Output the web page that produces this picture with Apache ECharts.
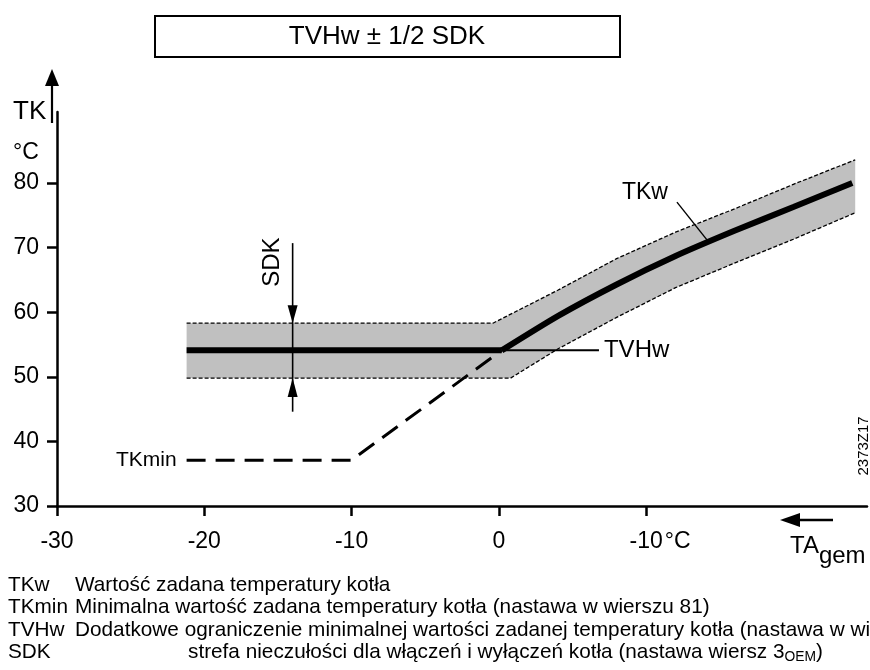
<!DOCTYPE html>
<html>
<head>
<meta charset="utf-8">
<script src="https://cdn.jsdelivr.net/npm/echarts@6/dist/echarts.min.js"></script>
<style>
html,body{margin:0;padding:0;background:#fff;}
#c{width:870px;height:670px;}
</style>
</head>
<body>
<div id="c"></div>
<script>
// Axis ticks and their printed labels
const xTicks = [-30, -20, -10, 0, 10];
const xTickLabels = ['-30', '-20', '-10', '0', '-10'];
const yTicks = [30, 40, 50, 60, 70, 80];
const yTickLabels = ['30', '40', '50', '60', '70', '80'];

// TVHw: flat minimum-limit segment of the boiler setpoint
const tvhwX = [-21.2, 0.2];
const tvhwY = [54.1, 54.1];

// TKw: boiler setpoint curve above the TVHw limit
const tkwX = [0.2, 4, 8, 12, 16, 20, 24.0];
const tkwY = [54.1, 59.4, 64.3, 68.7, 72.6, 76.3, 80.0];

// TKmin: minimum setpoint and the heating curve below TVHw
const tkminX = [-21.2, -10.0, 0.2];
const tkminY = [37.1, 37.1, 54.1];

// Switching differential band (TVHw / TKw +- 1/2 SDK)
const bandUpperX = [-21.2, -0.4, 4, 8, 12, 16, 20, 24.2];
const bandUpperY = [58.3, 58.3, 63.4, 68.3, 72.4, 76.0, 79.8, 83.6];
const bandLowerX = [-21.2, 0.8, 4, 8, 12, 16, 20, 24.2];
const bandLowerY = [49.8, 49.8, 54.3, 59.2, 63.8, 67.6, 71.3, 75.4];

// SDK dimension arrow
const sdkX = -14.0;
const sdkTopY = 70.7;
const sdkBottomY = 44.6;

// Legend rows below the chart
const legendKeys = ['TKw', 'TKmin', 'TVHw', 'SDK'];
const legendTexts = [
  'Wartość zadana temperatury kotła',
  'Minimalna wartość zadana temperatury kotła (nastawa w wierszu 81)',
  'Dodatkowe ograniczenie minimalnej wartości zadanej temperatury kotła (nastawa w wierszu',
  'strefa nieczułości dla włączeń i wyłączeń kotła (nastawa wiersz 3'
];

const FONT = '"Liberation Sans", Arial, sans-serif';

const zip = (xs, ys) => xs.map((x, i) => [x, ys[i]]);

const chart = echarts.init(document.getElementById('c'), null, { renderer: 'canvas' });

const lineBase = { type: 'line', symbol: 'none', animation: false, silent: true };

const option = {
  backgroundColor: '#fff',
  animation: false,
  grid: { left: 57, right: 3, top: 112, bottom: 164 },
  xAxis: {
    type: 'value', min: -30, max: 25,
    splitLine: { show: false },
    axisLine: { onZero: false, lineStyle: { color: '#000', width: 2.5 } },
    axisTick: { customValues: xTicks, length: 10, lineStyle: { color: '#000', width: 2.5 } },
    axisLabel: {
      customValues: xTicks, margin: 24, color: '#000', fontSize: 23, fontFamily: FONT,
      formatter: v => xTickLabels[xTicks.indexOf(v)]
    }
  },
  yAxis: {
    type: 'value', min: 30, max: 91,
    splitLine: { show: false },
    axisLine: { onZero: false, lineStyle: { color: '#000', width: 2.5 } },
    axisTick: { customValues: yTicks, length: 10, lineStyle: { color: '#000', width: 2.5 } },
    axisLabel: {
      customValues: yTicks, margin: 18, color: '#000', fontSize: 23, fontFamily: FONT,
      formatter: v => yTickLabels[yTicks.indexOf(v)]
    }
  },
  series: [
    {
      type: 'custom', silent: true, animation: false, z: 1,
      data: [[0, 0]],
      renderItem: (params, api) => {
        const pts = [];
        bandUpperX.forEach((x, i) => pts.push(api.coord([x, bandUpperY[i]])));
        for (let i = bandLowerX.length - 1; i >= 0; i--) pts.push(api.coord([bandLowerX[i], bandLowerY[i]]));
        return { type: 'polygon', shape: { points: pts }, style: { fill: '#c0c0c0' } };
      }
    },
    Object.assign({}, lineBase, { z: 2, data: zip(bandUpperX, bandUpperY),
      lineStyle: { color: '#000', width: 1.3, type: [4, 2] } }),
    Object.assign({}, lineBase, { z: 2, data: zip(bandLowerX, bandLowerY),
      lineStyle: { color: '#000', width: 1.3, type: [4, 2] } }),
    Object.assign({}, lineBase, { z: 3, data: zip(tkminX, tkminY),
      lineStyle: { color: '#000', width: 3, type: [19, 10] } }),
    Object.assign({}, lineBase, { z: 4, data: zip(tvhwX, tvhwY),
      lineStyle: { color: '#000', width: 6, cap: 'butt' } }),
    Object.assign({}, lineBase, { z: 4, smooth: 0.2, data: zip(tkwX, tkwY),
      lineStyle: { color: '#000', width: 6, cap: 'butt' } })
  ]
};

chart.setOption(option);

// ---- annotations placed through the grid's own scales ----
const p = (x, y) => chart.convertToPixel({ gridIndex: 0 }, [x, y]);
const ctx = document.createElement('canvas').getContext('2d');
const textWidth = (t, font) => { ctx.font = font; return ctx.measureText(t).width; };

function txt(t, x, y, size, align, vAlign, extra) {
  return Object.assign({
    type: 'text', x: x, y: y, z: 50,
    style: {
      text: t, font: size + 'px ' + FONT, fill: '#000',
      align: align, verticalAlign: vAlign, textAlign: align, textVerticalAlign: vAlign
    }
  }, extra || {});
}
function seg(x1, y1, x2, y2, w) {
  return { type: 'line', z: 50, shape: { x1, y1, x2, y2 }, style: { stroke: '#000', lineWidth: w } };
}
function tri(points) {
  return { type: 'polygon', z: 51, shape: { points }, style: { fill: '#000' } };
}

const g = [];
const rect = chart.getModel().getComponent('grid', 0).coordinateSystem.getRect();
const ax = rect.x, axBottom = rect.y + rect.height;

// vertical axis arrow and unit labels
const arX = ax - 5;
g.push(seg(arX, rect.y + 11, arX, 84, 2.2));
g.push(tri([[arX, 69], [arX - 7, 86], [arX + 7, 86]]));
g.push(txt('TK', 13, rect.y, 26, 'left', 'middle'));
g.push(txt('°C', 13, 153, 23, 'left', 'middle'));

// unit after the last horizontal tick label
const lastTick = p(xTicks[xTicks.length - 1], 30);
g.push(txt('°C', lastTick[0] + textWidth('-10', '23px ' + FONT) / 2 + 2, axBottom + 24, 23, 'left', 'top'));

// TA_gem arrow and label
g.push(seg(833, axBottom + 14, 798, axBottom + 14, 2.5));
g.push(tri([[780, axBottom + 14], [800, axBottom + 7], [800, axBottom + 21]]));
g.push(txt('TA', 790, axBottom + 40, 24, 'left', 'middle'));
g.push(txt('gem', 790 + textWidth('TA', '24px ' + FONT), axBottom + 50, 24, 'left', 'middle'));

// drawing number
g.push(txt('2373Z17', 864, p(0, 39.3)[1], 15, 'center', 'middle', { rotation: Math.PI / 2 }));

// TKmin label
const tkminStart = p(tkminX[0], tkminY[0]);
g.push(txt('TKmin', tkminStart[0] - 10, tkminStart[1], 21, 'right', 'middle'));

// TVHw label with leader
const tvEnd = p(tvhwX[1], tvhwY[1]);
const tvLead = p(6.8, tvhwY[1]);
g.push(seg(tvEnd[0], tvEnd[1], tvLead[0], tvLead[1], 2));
g.push(txt('TVHw', tvLead[0] + 5, tvLead[1], 24, 'left', 'middle'));

// TKw label with leader
const kwPt = p(14.2, 71.0);
g.push(seg(kwPt[0], kwPt[1], kwPt[0] - 31, kwPt[1] - 39, 1.4));
g.push(txt('TKw', kwPt[0] - 63, kwPt[1] - 49, 23, 'center', 'middle'));

// SDK dimension
const sTop = p(sdkX, sdkTopY), sBot = p(sdkX, sdkBottomY);
const sHi = p(sdkX, bandUpperY[0]), sLo = p(sdkX, bandLowerY[0]);
g.push(seg(sTop[0], sTop[1], sBot[0], sBot[1], 1.6));
g.push(tri([[sHi[0], sHi[1]], [sHi[0] - 5, sHi[1] - 18], [sHi[0] + 5, sHi[1] - 18]]));
g.push(tri([[sLo[0], sLo[1]], [sLo[0] - 5, sLo[1] + 19], [sLo[0] + 5, sLo[1] + 19]]));
g.push(txt('SDK', sTop[0] - 20, sTop[1] + 19, 24, 'center', 'middle', { rotation: Math.PI / 2 }));

// header box
g.push({ type: 'rect', z: 50, shape: { x: 155, y: 16, width: 465, height: 41 },
  style: { fill: '#fff', stroke: '#000', lineWidth: 2 } });
g.push(txt('TVHw ± 1/2 SDK', 387, 37, 26, 'center', 'middle'));

// legend rows (slightly condensed lettering, third row runs past the right edge)
const rowY = [585, 607, 630, 652];
const LEG = 21;
const SQ = 795 / textWidth('Dodatkowe ograniczenie minimalnej wartości zadanej temperatury kotła (nastawa w wi', LEG + 'px ' + FONT);
function legText(t, x, y, size) {
  return { type: 'text', x: x, y: y, z: 50, scaleX: SQ,
    style: { text: t, font: size + 'px ' + FONT, fill: '#000',
      align: 'left', verticalAlign: 'middle', textAlign: 'left', textVerticalAlign: 'middle' } };
}
legendKeys.forEach((k, i) => {
  g.push(legText(k, 8, rowY[i], LEG));
  const tx = i === 3 ? 188 : 75;
  g.push(legText(legendTexts[i], tx, rowY[i], LEG));
  if (i === 3) {
    const w = textWidth(legendTexts[i], LEG + 'px ' + FONT) * SQ;
    g.push(legText('OEM', tx + w, rowY[i] + 5, 14));
    const w2 = textWidth('OEM', '14px ' + FONT) * SQ;
    g.push(legText(')', tx + w + w2, rowY[i], LEG));
  }
});

chart.setOption({ graphic: { elements: g } });
</script>
</body>
</html>
